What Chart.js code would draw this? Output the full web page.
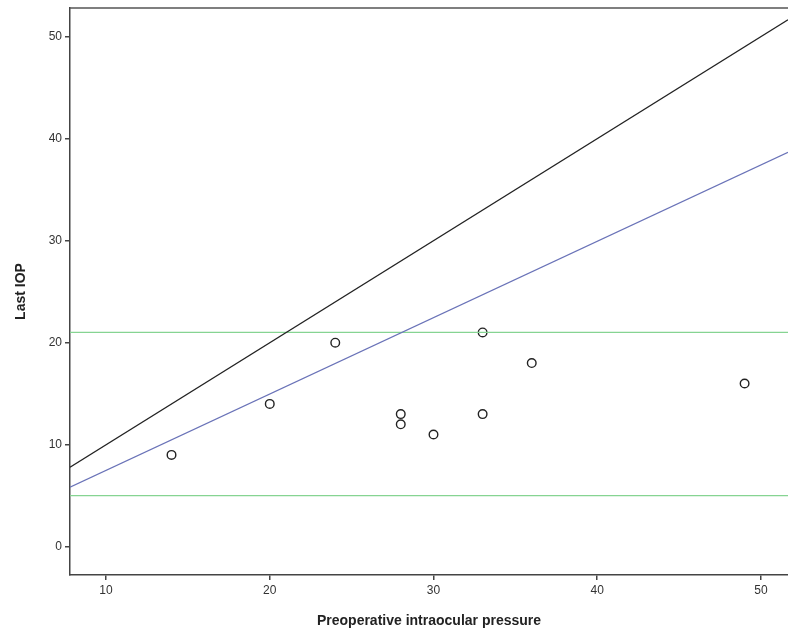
<!DOCTYPE html>
<html>
<head>
<meta charset="utf-8">
<script src="https://cdn.jsdelivr.net/npm/chart.js@4"></script>
<style>
  html, body { margin: 0; padding: 0; background: #fff; overflow: hidden; }
  canvas { display: block; }
</style>
</head>
<body>
<canvas id="scatterChart" width="788" height="637"></canvas>
<script>
// observed points: preoperative IOP vs last IOP
var preopIOP = [14, 20, 24, 28, 28, 30, 33, 33, 36, 49];
var lastIOP = [9, 14, 20, 13, 12, 11, 21, 13, 18, 16];

// reference lines (x range of the plot)
var lineX = [7.8, 51.65];
var identityY = [7.8, 51.65];
var fitY = [5.83, 38.65];
var upperLimit = 21;
var lowerLimit = 5;

var xTicks = [10, 20, 30, 40, 50];
var yTicks = [0, 10, 20, 30, 40, 50];

function pairs(xs, ys) {
    return xs.map(function (x, i) { return { x: x, y: ys[i] }; });
}

var tickFont = { family: 'Liberation Sans, Arial, sans-serif', size: 12 };
var titleFont = { family: 'Liberation Sans, Arial, sans-serif', size: 14, weight: 'bold' };

// top frame line of the plot area
var frameTop = {
    id: 'frameTop',
    afterDraw: function (chart) {
        var a = chart.chartArea, ctx = chart.ctx;
        ctx.save();
        ctx.strokeStyle = '#555';
        ctx.lineWidth = 1.5;
        ctx.beginPath();
        ctx.moveTo(a.left, a.top);
        ctx.lineTo(a.right, a.top);
        ctx.stroke();
        ctx.restore();
    }
};

var ctx = document.getElementById('scatterChart').getContext('2d');
var myChart = new Chart(ctx, {
    type: 'scatter',
    data: {
        datasets: [{
            label: 'Identity',
            type: 'line',
            data: pairs(lineX, identityY),
            borderColor: '#222',
            borderWidth: 1.3,
            pointRadius: 0,
            fill: false
        }, {
            label: 'Fit',
            type: 'line',
            data: pairs(lineX, fitY),
            borderColor: '#6a73b8',
            borderWidth: 1.2,
            pointRadius: 0,
            fill: false
        }, {
            label: 'Upper',
            type: 'line',
            data: pairs(lineX, [upperLimit, upperLimit]),
            borderColor: '#86d492',
            borderWidth: 1.2,
            pointRadius: 0,
            fill: false
        }, {
            label: 'Lower',
            type: 'line',
            data: pairs(lineX, [lowerLimit, lowerLimit]),
            borderColor: '#86d492',
            borderWidth: 1.2,
            pointRadius: 0,
            fill: false
        }, {
            label: 'Patients',
            data: pairs(preopIOP, lastIOP),
            pointStyle: 'circle',
            pointRadius: 4.3,
            pointBorderWidth: 1.4,
            borderColor: '#222',
            backgroundColor: 'rgba(255,255,255,0)'
        }]
    },
    options: {
        responsive: false,
        animation: false,
        layout: { autoPadding: false, padding: { top: 8, right: 0, left: 0, bottom: 0 } },
        plugins: {
            legend: { display: false },
            tooltip: { enabled: false }
        },
        scales: {
            x: {
                type: 'linear',
                min: lineX[0],
                max: lineX[1],
                afterFit: function (scale) {
                    scale.height = 62;
                    scale.paddingLeft = 0;
                    scale.paddingRight = 0;
                },
                afterBuildTicks: function (scale) {
                    scale.ticks = xTicks.map(function (v) { return { value: v }; });
                },
                grid: { drawOnChartArea: false, drawTicks: true, tickLength: 5, color: '#444', lineWidth: 1.5 },
                border: { display: true, color: '#444', width: 1.5 },
                ticks: { font: tickFont, color: '#333', padding: 3, maxRotation: 0 },
                title: {
                    display: true,
                    text: 'Preoperative intraocular pressure',
                    font: titleFont,
                    color: '#222',
                    padding: { top: 0, bottom: 7 }
                }
            },
            y: {
                type: 'linear',
                min: -2.77,
                max: 52.8,
                afterFit: function (scale) {
                    scale.width = 70;
                    scale.paddingTop = 0;
                    scale.paddingBottom = 0;
                },
                afterBuildTicks: function (scale) {
                    scale.ticks = yTicks.map(function (v) { return { value: v }; });
                },
                grid: { drawOnChartArea: false, drawTicks: true, tickLength: 5, color: '#444', lineWidth: 1.5 },
                border: { display: true, color: '#444', width: 1.5 },
                ticks: { font: tickFont, color: '#333', padding: 3 },
                title: {
                    display: true,
                    text: 'Last IOP',
                    font: titleFont,
                    color: '#222',
                    padding: { top: 13, bottom: 0 }
                }
            }
        }
    },
    plugins: [frameTop]
});
</script>
</body>
</html>
